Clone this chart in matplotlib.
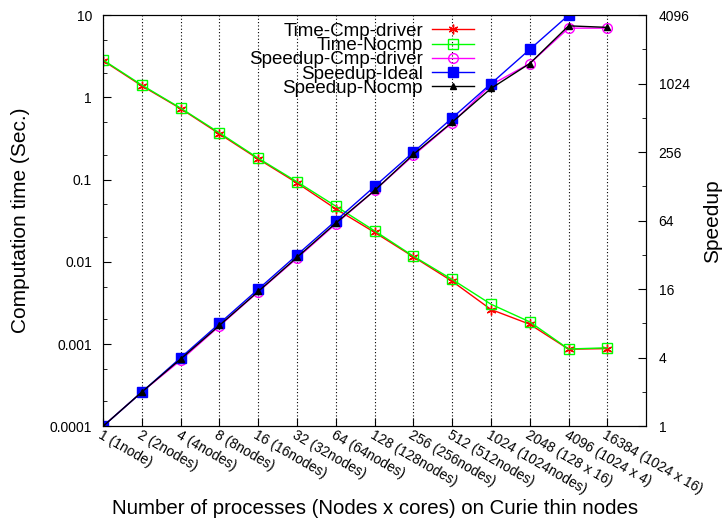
import numpy as np
import matplotlib.pyplot as plt
from matplotlib.ticker import FixedLocator, NullFormatter

plt.rcParams['font.family'] = ['Liberation Sans', 'DejaVu Sans']

labels = ['1 (1node)', '2 (2nodes)', '4 (4nodes)', '8 (8nodes)', '16 (16nodes)',
          '32 (32nodes)', '64 (64nodes)', '128 (128nodes)', '256 (256nodes)',
          '512 (512nodes)', '1024 (1024nodes)', '2048 (128 x 16)', '4096 (1024 x 4)',
          '16384 (1024 x 16)']
time_cmp = [2.8, 1.38, 0.73, 0.36, 0.178, 0.091, 0.044, 0.0228, 0.0115, 0.0058,
            0.00263, 0.00174, 0.000865, 0.00088]
time_nocmp = [2.85, 1.41, 0.74, 0.37, 0.182, 0.094, 0.0475, 0.0238, 0.0117, 0.0061,
              0.00305, 0.00186, 0.00087, 0.00090]
speedup_cmp = [1, 2.0, 3.8, 7.6, 15.2, 30.0, 60, 118, 240, 465, 1000, 1540, 3150, 3150]
speedup_ideal = [1, 2, 4, 8, 16, 32, 64, 128, 256, 512, 1024, 2048, 4096, np.nan]
speedup_nocmp = [1, 2.0, 3.9, 7.7, 15.3, 30.5, 61, 118, 245, 470, 930, 1540, 3300, 3200]

x = np.arange(len(labels))

fig = plt.figure(figsize=(7.26, 5.23), dpi=100)
ax = fig.add_axes([0.142, 0.185, 0.748, 0.786])
ax2 = ax.twinx()

l1, = ax.plot(x, time_cmp, c='#ff0000', lw=1, marker=(6, 2, 0), ms=7, label='Time-Cmp-driver')
l2, = ax.plot(x, time_nocmp, c='#00ff00', lw=1, marker='s', mfc='none', ms=7, label='Time-Nocmp')
l3, = ax2.plot(x, speedup_cmp, c='#ff00ff', lw=1, marker='o', mfc='none', ms=7, label='Speedup-Cmp-driver')
l4, = ax2.plot(x, speedup_ideal, c='#0000ff', lw=1, marker='s', ms=7, label='Speedup-Ideal')
l5, = ax2.plot(x, speedup_nocmp, c='#000000', lw=1, marker='^', ms=5, label='Speedup-Nocmp')

ax.set_yscale('log')
ax.set_ylim(0.0001, 10)
ax.set_xlim(0, 14)
ax.set_yticks([0.0001, 0.001, 0.01, 0.1, 1, 10], ['0.0001', '0.001', '0.01', '0.1', '1', '10'])
ax.yaxis.set_minor_locator(FixedLocator([m * 10.0**e for e in range(-4, 1) for m in (2, 5)]))
ax.yaxis.set_minor_formatter(NullFormatter())

ax2.set_yscale('log', base=2)
ax2.set_ylim(1, 4096)
ax2.set_yticks([1, 4, 16, 64, 256, 1024, 4096], ['1', '4', '16', '64', '256', '1024', '4096'])
ax2.yaxis.set_minor_locator(FixedLocator([2, 8, 32, 128, 512, 2048]))
ax2.yaxis.set_minor_formatter(NullFormatter())

ax.set_xticks(x)
ax.set_xticklabels(labels, rotation=-30, ha='left', rotation_mode='anchor', fontsize=9)
ax.grid(axis='x', c='black', ls=(0, (1, 2)), lw=0.8)
ax.tick_params(direction='in', labelsize=10, length=6, pad=8)
ax.tick_params(which='minor', direction='in', length=3)
ax2.tick_params(direction='in', labelsize=10, length=6, pad=9)
ax2.tick_params(which='minor', direction='in', length=3)
ax.tick_params(axis='x', pad=1)

ax.set_ylabel('Computation time (Sec.)', fontsize=15)
ax.yaxis.set_label_coords(-0.135, 0.5)
ax2.set_ylabel('Speedup', fontsize=15)
ax2.yaxis.set_label_coords(1.105, 0.5)
ax.set_xlabel('Number of processes (Nodes x cores) on Curie thin nodes', fontsize=14.7)
ax.xaxis.set_label_coords(0.5, -0.178)

ax2.legend(handles=[l1, l2, l3, l4, l5], loc='upper left', bbox_to_anchor=(0.255, 1.0),
           frameon=False, markerfirst=False, fontsize=13.5, handlelength=2.2,
           labelspacing=-0.15, borderaxespad=0, handletextpad=0.5)

fig.savefig('out.png', dpi=100)
